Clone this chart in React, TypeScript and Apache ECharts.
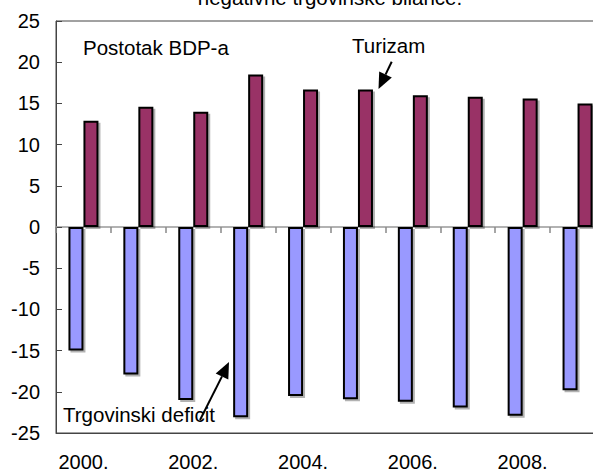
import React, { useEffect, useRef } from "react";
import * as echarts from "echarts";

const categories = ["2000.", "2001.", "2002.", "2003.", "2004.", "2005.", "2006.", "2007.", "2008.", "2009."];
const tradeDeficit = [-15.0, -17.9, -21.0, -23.1, -20.5, -20.9, -21.2, -21.9, -22.9, -19.8];
const tourism = [12.9, 14.6, 14.0, 18.5, 16.7, 16.7, 16.0, 15.8, 15.6, 15.0];
const yMin = -25;
const yMax = 25;
const yStep = 5;

const FONT = "'Liberation Sans', Arial, Helvetica, sans-serif";

export default function App() {
  const ref = useRef<HTMLDivElement>(null);

  useEffect(() => {
    document.body.style.margin = "0";
    if (!ref.current) return;
    const chart = echarts.init(ref.current, undefined, { renderer: "svg" });

    const barShadow = {
      shadowColor: "rgba(0,0,0,0.3)",
      shadowOffsetX: 2,
      shadowOffsetY: 2,
      shadowBlur: 0,
    };

    const annot = (text: string, x: number, y: number) => ({
      type: "text",
      x,
      y,
      style: {
        text,
        fontSize: 20.5,
        fontFamily: FONT,
        fill: "#000",
        align: "left",
        verticalAlign: "middle",
      },
    });

    chart.setOption({
      animation: false,
      backgroundColor: "#ffffff",
      textStyle: { fontFamily: FONT },
      grid: {
        left: 56,
        top: 21,
        width: 549,
        height: 413,
        show: true,
        borderColor: "#444",
        borderWidth: 1,
        containLabel: false,
      },
      xAxis: [
        {
          type: "category",
          data: categories,
          position: "bottom",
          axisLine: { onZero: false, show: true, lineStyle: { color: "#444", width: 1 } },
          axisTick: { show: false },
          axisLabel: {
            interval: 1,
            margin: 19,
            fontSize: 20,
            color: "#000",
            fontFamily: FONT,
          },
          splitLine: { show: false },
        },
        {
          type: "category",
          data: categories,
          position: "top",
          axisLine: { onZero: true, show: true, lineStyle: { color: "#999", width: 1.5 } },
          axisTick: { show: true, inside: true, length: 6, interval: 0, lineStyle: { color: "#888", width: 1.5 } },
          axisLabel: { show: false },
          splitLine: { show: false },
        },
      ],
      yAxis: {
        type: "value",
        min: yMin,
        max: yMax,
        interval: yStep,
        axisLine: { show: true, onZero: false, lineStyle: { color: "#444", width: 1 } },
        axisTick: { show: true, inside: true, length: 6, lineStyle: { color: "#444", width: 1 } },
        axisLabel: { margin: 16, fontSize: 20, color: "#000", fontFamily: FONT },
        splitLine: { show: false },
      },
      series: [
        {
          name: "Trgovinski deficit",
          type: "bar",
          data: tradeDeficit,
          barWidth: 15,
          barGap: "0%",
          itemStyle: { color: "#9999FF", borderColor: "#000", borderWidth: 2, ...barShadow },
        },
        {
          name: "Turizam",
          type: "bar",
          data: tourism,
          barWidth: 15,
          barGap: "0%",
          itemStyle: { color: "#993366", borderColor: "#000", borderWidth: 2, ...barShadow },
        },
      ],
      graphic: [
        {
          type: "text",
          x: 330,
          y: -3,
          style: {
            text: "negativne trgovinske bilance.",
            fontSize: 20.5,
            fontFamily: FONT,
            fill: "#000",
            align: "center",
            verticalAlign: "middle",
          },
        },
        annot("Postotak BDP-a", 83, 47),
        annot("Turizam", 352, 45),
        annot("Trgovinski deficit", 63, 414),
        {
          type: "line",
          shape: { x1: 391.7, y1: 61.7, x2: 385.5, y2: 74.6 },
          style: { stroke: "#000", lineWidth: 2 },
        },
        {
          type: "polygon",
          shape: { points: [[378.5, 89], [391.8, 77.6], [379.2, 71.5]] },
          style: { fill: "#000" },
        },
        {
          type: "line",
          shape: { x1: 200, y1: 420, x2: 222, y2: 376.4 },
          style: { stroke: "#000", lineWidth: 2 },
        },
        {
          type: "polygon",
          shape: { points: [[229, 362], [228.3, 379.5], [215.7, 373.4]] },
          style: { fill: "#000" },
        },
      ],
    });

    return () => {
      chart.dispose();
    };
  }, []);

  return (
    <div style={{ width: 593, height: 472, overflow: "hidden", position: "relative" }}>
      <div ref={ref} style={{ width: 620, height: 472 }} />
    </div>
  );
}
